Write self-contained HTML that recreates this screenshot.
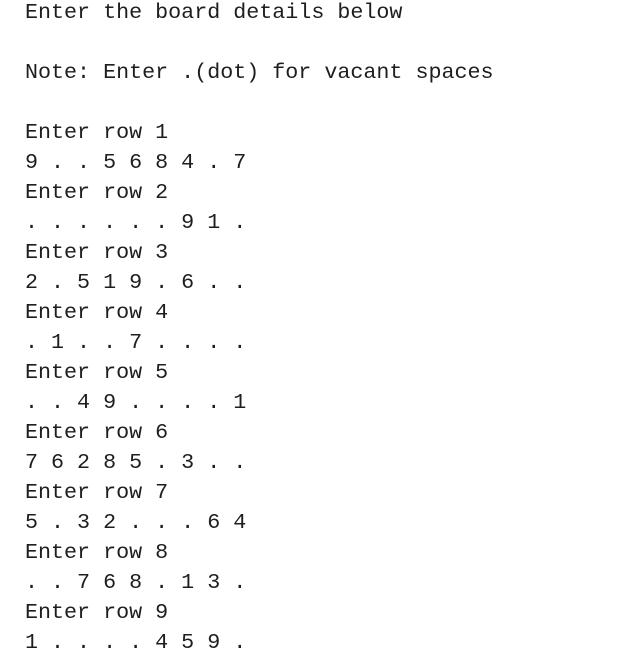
<!DOCTYPE html>
<html><head><style>
html,body{margin:0;padding:0;background:#fff;width:623px;height:661px;overflow:hidden}
pre{margin:0;position:absolute;left:25px;top:-2px;font-family:"Liberation Mono",monospace;font-size:21.7px;line-height:30px;color:#1e1e1e}
</style></head><body>
<pre>Enter the board details below

Note: Enter .(dot) for vacant spaces

Enter row 1
9 . . 5 6 8 4 . 7
Enter row 2
. . . . . . 9 1 .
Enter row 3
2 . 5 1 9 . 6 . .
Enter row 4
. 1 . . 7 . . . .
Enter row 5
. . 4 9 . . . . 1
Enter row 6
7 6 2 8 5 . 3 . .
Enter row 7
5 . 3 2 . . . 6 4
Enter row 8
. . 7 6 8 . 1 3 .
Enter row 9
1 . . . . 4 5 9 .</pre>
</body></html>
